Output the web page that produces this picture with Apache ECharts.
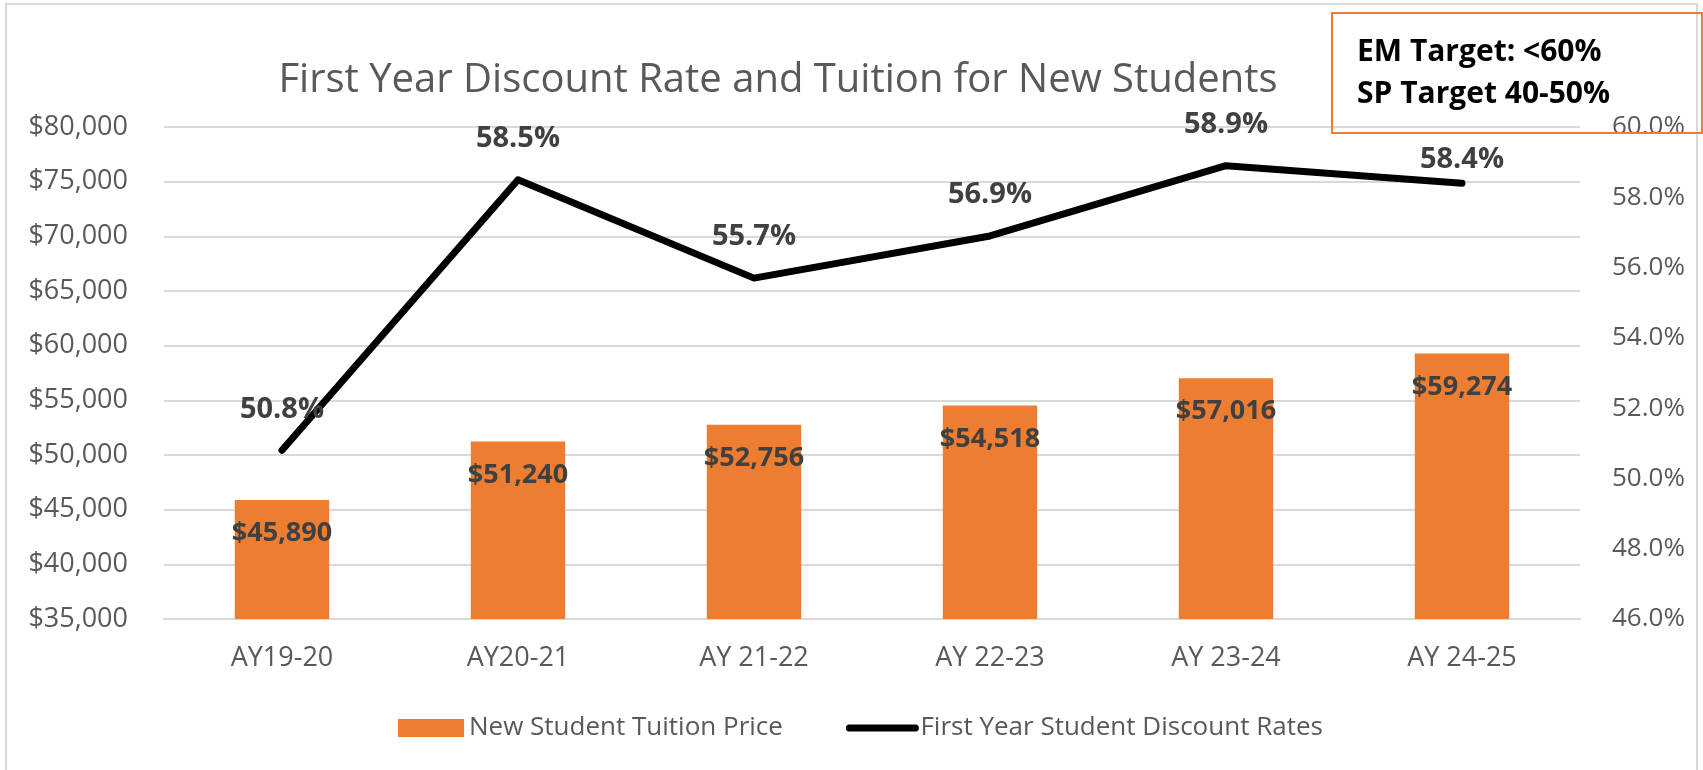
<!DOCTYPE html>
<html>
<head>
<meta charset="utf-8">
<script src="https://cdn.jsdelivr.net/npm/echarts@6/dist/echarts.min.js"></script>
<style>
  html, body { margin: 0; padding: 0; background: #fff; }
  #chart { width: 1703px; height: 770px; }
</style>
</head>
<body>
<div id="chart"></div>
<script>
  // data
  var years = ['AY19-20', 'AY20-21', 'AY 21-22', 'AY 22-23', 'AY 23-24', 'AY 24-25'];
  var tuition = [45890, 51240, 52756, 54518, 57016, 59274];
  var discountRate = [50.8, 58.5, 55.7, 56.9, 58.9, 58.4];
  var targetNotes = ['EM Target: <60%', 'SP Target 40-50%'];

  var font = '"Open Sans", "Noto Sans", sans-serif';
  var grey = '#595959';
  var orange = '#ED7D31';

  // last label sits closer to the line (it is pushed under the target box in the original)
  var rateData = discountRate.map(function (v, i) {
    if (i === discountRate.length - 1) {
      return {value: v, label: {distance: 8}};
    }
    return v;
  });

  var chart = echarts.init(document.getElementById('chart'));

  var option = {
    backgroundColor: '#fff',
    textStyle: {fontFamily: font},
    animation: false,
    title: {
      text: 'First Year Discount Rate and Tuition for New Students',
      left: 778,
      top: 61,
      padding: 0,
      textAlign: 'center',
      textStyle: {fontFamily: font, fontSize: 40, fontWeight: 'normal', color: grey}
    },
    grid: {left: 164, right: 123, top: 127, bottom: 151},
    legend: {
      left: 393,
      top: 710,
      itemWidth: 66,
      itemHeight: 18,
      itemGap: 63,
      textStyle: {fontFamily: font, fontSize: 26, color: grey},
      data: [
        {name: 'New Student Tuition Price', icon: 'rect'},
        {name: 'First Year Student Discount Rates', itemStyle: {opacity: 0}, lineStyle: {width: 7, cap: 'round'}}
      ]
    },
    xAxis: {
      type: 'category',
      data: years,
      axisTick: {show: false},
      axisLine: {lineStyle: {color: '#d9d9d9', width: 2}},
      axisLabel: {color: grey, fontSize: 27, margin: 26, fontFamily: font}
    },
    yAxis: [{
      type: 'value',
      min: 35000,
      max: 80000,
      interval: 5000,
      axisLabel: {
        color: grey, fontSize: 27, margin: 36, fontFamily: font,
        formatter: function (v) { return '$' + v.toLocaleString('en-US'); }
      },
      splitLine: {lineStyle: {color: '#d9d9d9', width: 2}}
    }, {
      type: 'value',
      min: 46,
      max: 60,
      interval: 2,
      splitLine: {show: false},
      axisLabel: {
        color: grey, fontSize: 26, margin: 32, fontFamily: font,
        formatter: function (v) { return v.toFixed(1) + '%'; }
      }
    }],
    series: [{
      name: 'New Student Tuition Price',
      type: 'bar',
      data: tuition,
      barWidth: '40%',
      itemStyle: {color: orange},
      label: {
        show: true,
        position: 'insideTop',
        distance: 20,
        color: '#404040',
        fontWeight: 'bold',
        fontSize: 27,
        fontFamily: font,
        formatter: function (p) { return '$' + p.value.toLocaleString('en-US'); }
      }
    }, {
      name: 'First Year Student Discount Rates',
      type: 'line',
      yAxisIndex: 1,
      data: rateData,
      symbol: 'circle',
      symbolSize: 1,
      itemStyle: {color: '#000'},
      lineStyle: {color: '#000', width: 7, cap: 'round', join: 'round'},
      z: 3,
      label: {
        show: true,
        position: 'top',
        distance: 26,
        color: '#404040',
        fontWeight: 'bold',
        fontSize: 29,
        fontFamily: font,
        formatter: function (p) { return p.value.toFixed(1) + '%'; }
      }
    }],
    graphic: [{
      type: 'rect',
      shape: {x: 6, y: 4, width: 1691, height: 790},
      style: {fill: 'none', stroke: '#d9d9d9', lineWidth: 2},
      silent: true
    }, {
      type: 'rect',
      shape: {x: 1332, y: 13, width: 370, height: 120},
      style: {fill: 'none', stroke: orange, lineWidth: 2},
      z: 10
    }, {
      type: 'text',
      x: 1357,
      y: 52,
      z: 10,
      style: {text: targetNotes[0], font: 'bold 30px ' + font, fill: '#000', verticalAlign: 'middle'}
    }, {
      type: 'text',
      x: 1357,
      y: 94,
      z: 10,
      style: {text: targetNotes[1], font: 'bold 30px ' + font, fill: '#000', verticalAlign: 'middle'}
    }]
  };

  chart.setOption(option);
</script>
</body>
</html>
